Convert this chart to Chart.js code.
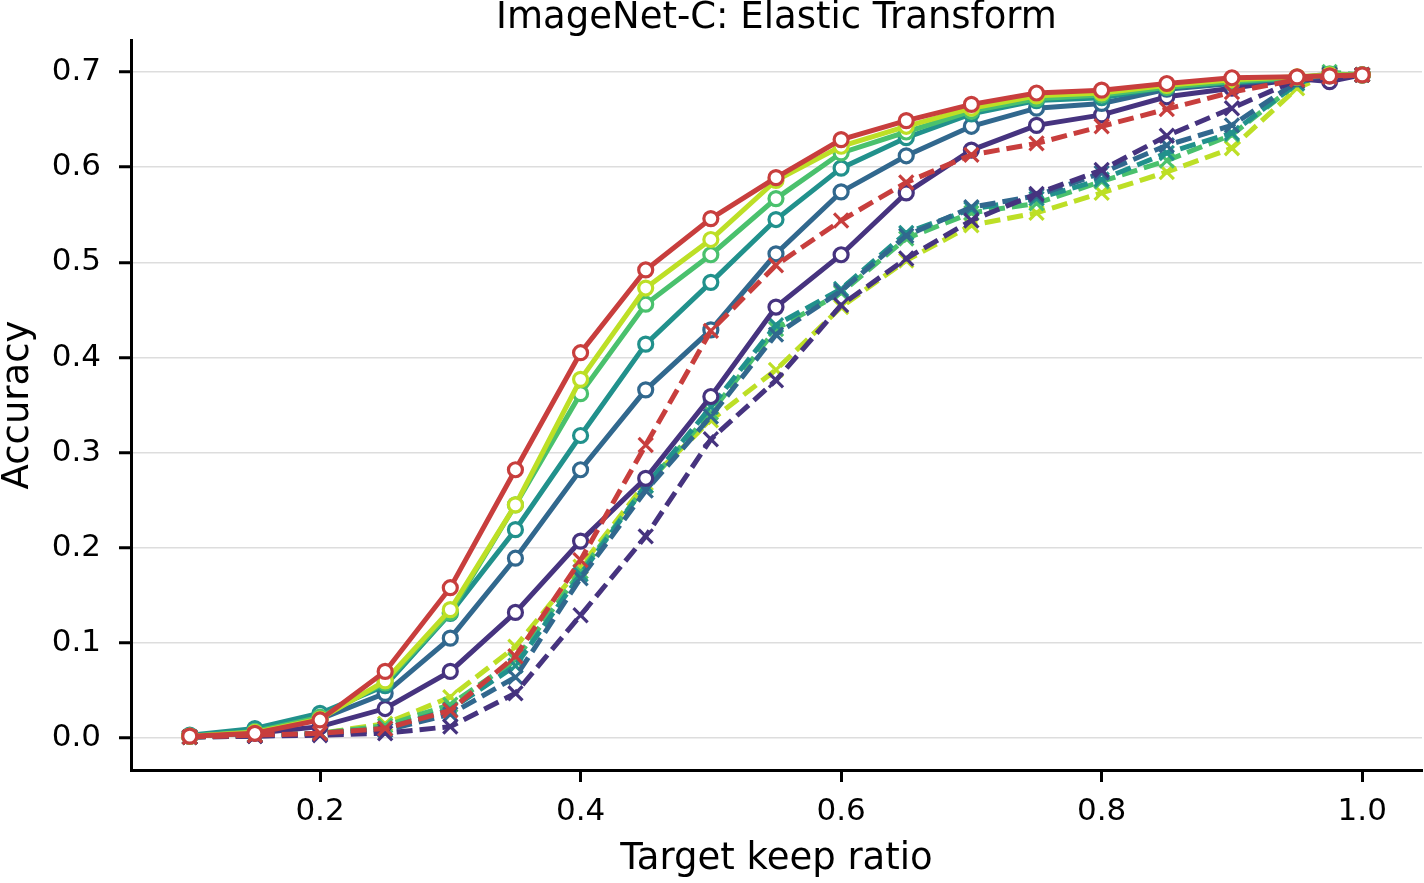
<!DOCTYPE html>
<html>
<head>
<meta charset="utf-8">
<title>ImageNet-C: Elastic Transform</title>
<script src="https://cdn.jsdelivr.net/npm/chart.js@4/dist/chart.umd.min.js"></script>
<style>
  html, body { margin: 0; padding: 0; background: #fff; overflow: hidden; }
  canvas { display: block; }
</style>
</head>
<body>
<canvas id="chart" width="1424" height="883" style="width:1424px;height:883px"></canvas>
<script>
// keep ratios on the x axis
const keepRatios = [0.1, 0.15, 0.2, 0.25, 0.3, 0.35, 0.4, 0.45, 0.5, 0.55, 0.6, 0.65, 0.7, 0.75, 0.8, 0.85, 0.9, 0.95, 0.975, 1.0];

// solid lines, circle markers
const solidRed    = [0.002, 0.005, 0.019, 0.070, 0.158, 0.282, 0.405, 0.492, 0.546, 0.589, 0.629, 0.649, 0.666, 0.678, 0.681, 0.688, 0.694, 0.695, 0.696, 0.697];
const solidYellow = [0.002, 0.006, 0.020, 0.060, 0.135, 0.245, 0.377, 0.473, 0.524, 0.586, 0.622, 0.643, 0.662, 0.675, 0.678, 0.686, 0.692, 0.695, 0.697, 0.697];
const solidGreen  = [0.002, 0.007, 0.022, 0.058, 0.132, 0.245, 0.362, 0.456, 0.508, 0.567, 0.615, 0.637, 0.659, 0.672, 0.676, 0.684, 0.690, 0.694, 0.698, 0.697];
const solidTeal   = [0.003, 0.010, 0.026, 0.055, 0.131, 0.219, 0.318, 0.414, 0.479, 0.545, 0.599, 0.631, 0.656, 0.670, 0.673, 0.684, 0.689, 0.694, 0.697, 0.697];
const solidBlue   = [0.002, 0.009, 0.020, 0.047, 0.105, 0.189, 0.282, 0.366, 0.429, 0.509, 0.574, 0.612, 0.643, 0.662, 0.667, 0.682, 0.688, 0.693, 0.696, 0.697];
const solidPurple = [0.002, 0.005, 0.012, 0.031, 0.070, 0.132, 0.207, 0.273, 0.359, 0.453, 0.508, 0.573, 0.618, 0.644, 0.655, 0.674, 0.683, 0.693, 0.690, 0.697];

// dashed lines, x markers
const dashRed    = [0.001, 0.003, 0.005, 0.010, 0.029, 0.086, 0.187, 0.308, 0.428, 0.497, 0.544, 0.584, 0.613, 0.625, 0.643, 0.661, 0.679, 0.692, 0.695, 0.697];
const dashYellow = [0.001, 0.003, 0.005, 0.015, 0.043, 0.096, 0.180, 0.268, 0.334, 0.387, 0.453, 0.502, 0.539, 0.552, 0.573, 0.595, 0.620, 0.683, 0.698, 0.697];
const dashGreen  = [0.001, 0.003, 0.005, 0.013, 0.035, 0.082, 0.175, 0.265, 0.342, 0.430, 0.468, 0.525, 0.552, 0.562, 0.585, 0.607, 0.634, 0.688, 0.700, 0.697];
const dashTeal   = [0.001, 0.003, 0.005, 0.010, 0.030, 0.076, 0.172, 0.265, 0.348, 0.434, 0.472, 0.531, 0.556, 0.567, 0.587, 0.615, 0.636, 0.688, 0.698, 0.697];
const dashBlue   = [0.001, 0.002, 0.004, 0.008, 0.025, 0.064, 0.168, 0.260, 0.338, 0.424, 0.470, 0.528, 0.558, 0.570, 0.594, 0.623, 0.644, 0.690, 0.697, 0.697];
const dashPurple = [0.001, 0.002, 0.003, 0.005, 0.012, 0.047, 0.129, 0.212, 0.314, 0.376, 0.455, 0.504, 0.544, 0.572, 0.597, 0.633, 0.662, 0.692, 0.697, 0.697];

const xTicks = [0.2, 0.4, 0.6, 0.8, 1.0];
const yTicks = [0.0, 0.1, 0.2, 0.3, 0.4, 0.5, 0.6, 0.7];

const RED = '#c83e3d';
const YELLOW = '#bddf26';
const GREEN = '#4ac16d';
const TEAL = '#21918c';
const BLUE = '#31688e';
const PURPLE = '#46337f';

const FONT = 'DejaVu Sans';

function series(values, color, dashed) {
  return {
    data: values.map((v, i) => ({ x: keepRatios[i], y: v })),
    borderColor: color,
    backgroundColor: color,
    borderWidth: 5,
    borderDash: dashed ? [16, 7] : [],
    pointStyle: dashed ? 'crossRot' : 'circle',
    pointRadius: dashed ? 10 : 7,
    pointBorderWidth: 3.2,
    pointBorderColor: color,
    pointBackgroundColor: dashed ? color : '#ffffff',
    tension: 0,
    fill: false,
  };
}

// first dataset is drawn on top
const datasets = [
  series(solidRed, RED, false),
  series(dashRed, RED, true),
  series(solidYellow, YELLOW, false),
  series(solidGreen, GREEN, false),
  series(solidTeal, TEAL, false),
  series(solidBlue, BLUE, false),
  series(solidPurple, PURPLE, false),
  series(dashPurple, PURPLE, true),
  series(dashBlue, BLUE, true),
  series(dashTeal, TEAL, true),
  series(dashGreen, GREEN, true),
  series(dashYellow, YELLOW, true),
];

new Chart(document.getElementById('chart'), {
  type: 'line',
  data: { datasets: datasets },
  options: {
    responsive: false,
    animation: false,
    devicePixelRatio: 1,
    layout: { autoPadding: false, padding: { left: 0, right: 2, top: 0, bottom: 0 } },
    plugins: {
      legend: { display: false },
      tooltip: { enabled: false },
      title: {
        display: true,
        text: 'ImageNet-C: Elastic Transform',
        color: '#000',
        fullSize: false,
        font: { family: FONT, size: 37, weight: 'normal', lineHeight: 1.0 },
        padding: { top: 0, bottom: 3 },
      },
    },
    scales: {
      x: {
        type: 'linear',
        min: 0.0549,
        max: 1.0459,
        afterBuildTicks: (scale) => { scale.ticks = xTicks.map(v => ({ value: v })); },
        afterFit: (scale) => {
          scale.height = 113;
          scale.paddingLeft = 0;
          scale.paddingRight = 0;
        },
        ticks: {
          color: '#000',
          padding: 11,
          font: { family: FONT, size: 31 },
          callback: (v) => Number(v).toFixed(1),
        },
        grid: {
          drawOnChartArea: false,
          drawTicks: true,
          tickLength: 12,
          tickColor: '#000',
          tickWidth: 3,
        },
        border: { display: true, color: '#000', width: 3 },
        title: {
          display: true,
          text: 'Target keep ratio',
          color: '#000',
          font: { family: FONT, size: 37 },
          padding: { top: 4, bottom: 1 },
        },
      },
      y: {
        type: 'linear',
        min: -0.0336,
        max: 0.7337,
        afterBuildTicks: (scale) => { scale.ticks = yTicks.map(v => ({ value: v })); },
        afterFit: (scale) => { scale.width = 131; },
        ticks: {
          color: '#000',
          padding: 18,
          font: { family: FONT, size: 31 },
          callback: (v) => Number(v).toFixed(1),
        },
        grid: {
          color: '#dddddd',
          lineWidth: 1.5,
          drawTicks: true,
          tickLength: 12,
          tickColor: '#000',
          tickWidth: 3,
        },
        border: { display: true, color: '#000', width: 3 },
        title: {
          display: true,
          text: 'Accuracy',
          color: '#000',
          font: { family: FONT, size: 37, lineHeight: 1.0 },
          padding: { top: 0, bottom: 0 },
        },
      },
    },
  },
});
</script>
</body>
</html>
